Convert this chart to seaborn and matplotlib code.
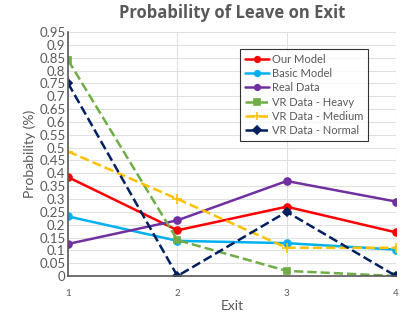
import seaborn as sns
import matplotlib.pyplot as plt
import pandas as pd

exits = [1, 2, 3, 4]
our_model = [0.385, 0.178, 0.27, 0.17]
basic_model = [0.232, 0.137, 0.128, 0.103]
real_data = [0.125, 0.217, 0.37, 0.29]
vr_heavy = [0.84, 0.14, 0.02, 0.0]
vr_medium = [0.485, 0.30, 0.11, 0.11]
vr_normal = [0.75, 0.0, 0.25, 0.0]

series = [
    ("Our Model", our_model, "#FF0000", "-", "o"),
    ("Basic Model", basic_model, "#00B0F0", "-", "o"),
    ("Real Data", real_data, "#7030A0", "-", "o"),
    ("VR Data - Heavy", vr_heavy, "#70AD47", "--", "s"),
    ("VR Data - Medium", vr_medium, "#FFC000", "--", "+"),
    ("VR Data - Normal", vr_normal, "#002060", "--", "D"),
]

sns.set_theme(style="whitegrid")
plt.rcParams['font.family'] = ['Lato', 'DejaVu Sans']

fig = plt.figure(figsize=(4.01, 3.18), dpi=100)
ax = fig.add_axes([0.17, 0.132, 0.8175, 0.767])

for name, vals, col, ls, mk in series:
    df = pd.DataFrame({"Exit": exits, "p": vals})
    ms = 7 if mk == "+" else (4.5 if mk == "D" else 5)
    sns.lineplot(data=df, x="Exit", y="p", ax=ax, color=col, linestyle=ls,
                 marker=mk, markersize=ms, markeredgecolor=col, markeredgewidth=1.2,
                 linewidth=1.8, label=name)

ax.set_xlim(1, 4)
ax.set_ylim(0, 0.95)
ax.set_xticks(exits)
ax.set_xticklabels([str(e) for e in exits], fontsize=7, color="#595959")
yt = [i * 0.05 for i in range(20)]
ax.set_yticks(yt)
ax.set_yticklabels([("%.2f" % v).rstrip("0").rstrip(".") if v > 0 else "0" for v in yt],
                   fontsize=9.5, color="#595959")
ax.tick_params(axis="x", pad=9, length=0)
ax.tick_params(axis="y", pad=2, length=0)
ax.grid(True, color="#E0E0E0", linewidth=0.8)
for s in ["top", "right"]:
    ax.spines[s].set_visible(False)
for s in ["left", "bottom"]:
    ax.spines[s].set_color("#595959")
    ax.spines[s].set_linewidth(1.2)

ax.set_xlabel("Exit", fontsize=10, color="#595959", labelpad=2)
ax.set_ylabel("Probability (%)", fontsize=10, color="#595959", labelpad=2)
ax.set_title("Probability of Leave on Exit", fontsize=12, fontweight="bold",
             color="#595959", pad=10, family=["Open Sans", "DejaVu Sans"])

leg = ax.legend(loc="upper left", bbox_to_anchor=(0.525, 0.93), fontsize=8,
                frameon=True, fancybox=False, borderpad=0.4, labelspacing=0.3,
                handlelength=2.2, handletextpad=0.3, borderaxespad=0,
                markerscale=0.8)
leg.get_frame().set_edgecolor("#000000")
leg.get_frame().set_linewidth(0.8)
for t in leg.get_texts():
    t.set_color("#595959")

fig.savefig("out.png", dpi=100)
